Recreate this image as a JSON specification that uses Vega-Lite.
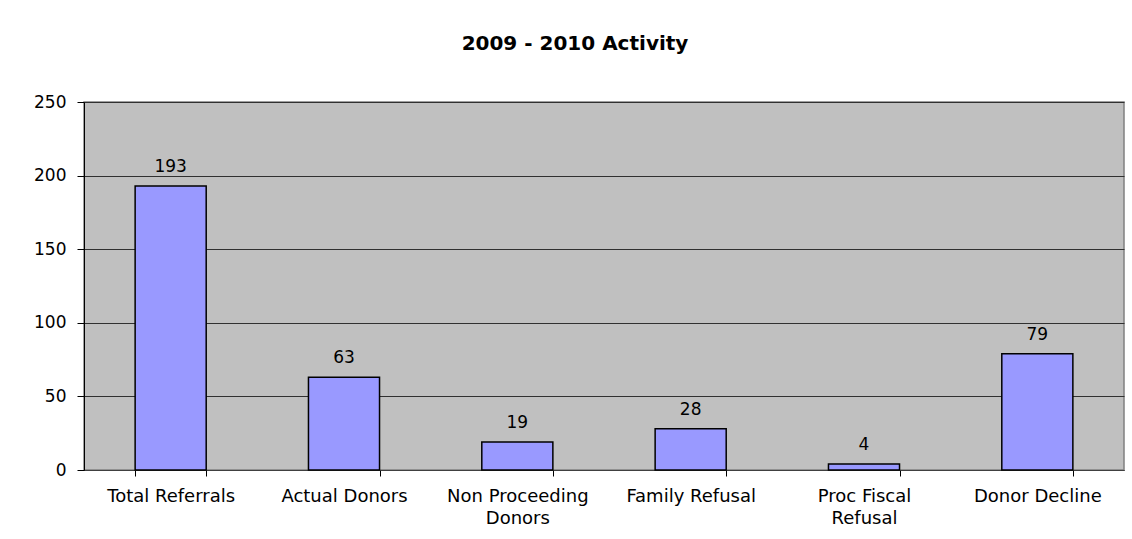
{
  "$schema": "https://vega.github.io/schema/vega-lite/v6.json",
  "width": 1040,
  "height": 368,
  "padding": {"left": 84, "top": 102, "right": 8, "bottom": 69},
  "autosize": {"type": "none"},
  "background": "white",
  "title": {
    "text": "2009 - 2010 Activity",
    "font": "DejaVu Sans",
    "fontSize": 20,
    "fontWeight": "bold",
    "color": "black",
    "anchor": "middle",
    "frame": "group",
    "baseline": "alphabetic",
    "offset": 23,
    "dx": -29
  },
  "data": {
    "values": [
      {"category": "Total Referrals", "value": 193},
      {"category": "Actual Donors", "value": 63},
      {"category": "Non Proceeding Donors", "value": 19},
      {"category": "Family Refusal", "value": 28},
      {"category": "Proc Fiscal Refusal", "value": 4},
      {"category": "Donor Decline", "value": 79}
    ]
  },
  "config": {
    "view": {"fill": "#C0C0C0", "stroke": "#808080", "strokeWidth": 1.5},
    "axis": {"labelFont": "DejaVu Sans", "labelColor": "black", "domainColor": "black", "tickColor": "black"}
  },
  "encoding": {
    "x": {
      "field": "category",
      "type": "nominal",
      "sort": null,
      "scale": {"paddingInner": 0.59, "paddingOuter": 0.295},
      "axis": {
        "title": null,
        "labelAngle": 0,
        "labelFontSize": 18,
        "labelPadding": 11,
        "tickSize": 6,
        "tickBand": "extent",
        "labelLineHeight": 22,
        "labelBaseline": "top",
        "domainColor": "#404040",
        "labelExpr": "datum.label == 'Non Proceeding Donors' ? ['Non Proceeding','Donors'] : datum.label == 'Proc Fiscal Refusal' ? ['Proc Fiscal','Refusal'] : datum.label"
      }
    },
    "y": {
      "field": "value",
      "type": "quantitative",
      "scale": {"domain": [0, 250], "nice": false},
      "axis": {
        "title": null,
        "values": [0, 50, 100, 150, 200, 250],
        "labelFontSize": 17,
        "labelPadding": 11,
        "tickSize": 7,
        "grid": true,
        "gridColor": "#303030",
        "gridWidth": 1
      }
    }
  },
  "layer": [
    {
      "mark": {"type": "bar", "fill": "#9999FF", "stroke": "black", "strokeWidth": 1.5}
    },
    {
      "mark": {"type": "text", "baseline": "alphabetic", "dy": -14, "font": "DejaVu Sans", "fontSize": 17, "color": "black"},
      "encoding": {"text": {"field": "value", "type": "quantitative"}}
    }
  ]
}
